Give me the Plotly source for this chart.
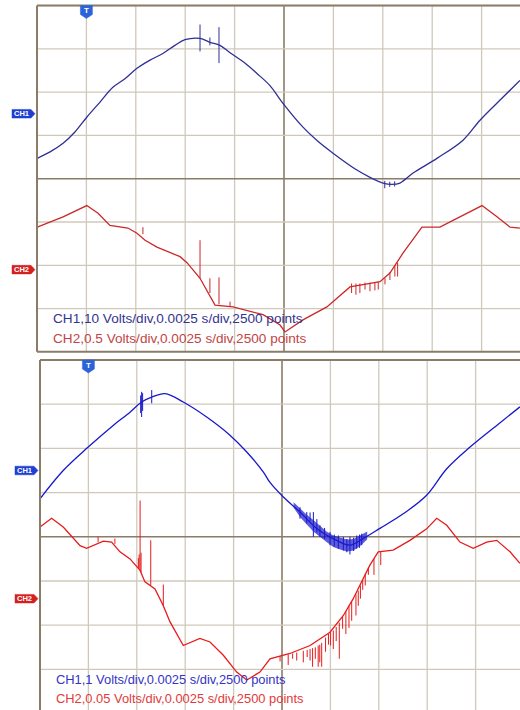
import plotly.graph_objects as go

W, H = 520, 710

# ---------------- upper capture (times in ms, values in volts) ----------------
up_ch1_t = [-2.49, -1.84, -1.18, -0.58, 0.02, 0.69, 1.34, 1.95, 2.56, 3.22, 3.87, 4.48,
            4.99, 5.75, 6.25, 6.76, 7.27, 8.02, 8.63, 9.29, 9.95, 10.96, 11.70, 12.48,
            13.69, 14.40, 15.01, 15.45, 15.87, 16.53, 17.74, 19.06, 19.92, 21.08, 21.94]
up_ch1_v = [-10.3, -8.8, -6.8, -4.2, -0.8, 2.7, 6.1, 8.1, 10.5, 12.4, 13.9, 15.8,
            17.1, 17.4, 16.5, 15.8, 14.1, 11.7, 9.3, 6.5, 2.4, -3.1, -6.3, -9.1,
            -13.0, -14.8, -16.0, -16.3, -16.0, -13.7, -10.3, -6.1, -1.5, 3.8, 7.7]
up_ch1_spk_t = [5.75, 6.25, 6.71, 15.10, 15.35, 15.60]
up_ch1_spk_lo = [14.4, 15.8, 11.7, -17.2, -16.9, -16.8]
up_ch1_spk_hi = [20.6, 17.6, 20.0, -15.5, -15.7, -15.6]

up_ch2_t = [-2.49, -1.18, 0.02, 0.59, 1.19, 2.10, 2.56, 2.97, 3.57, 4.74, 5.09, 5.75,
            6.51, 7.42, 8.94, 9.80, 10.05, 10.96, 12.17, 13.34, 14.86, 15.36, 16.02,
            16.98, 17.89, 19.06, 20.02, 20.78, 21.44, 21.94]
up_ch2_v = [0.49, 0.61, 0.74, 0.65, 0.51, 0.48, 0.42, 0.34, 0.26, 0.15, 0.08, -0.10,
            -0.41, -0.43, -0.52, -0.64, -0.72, -0.58, -0.43, -0.20, -0.14, -0.04, 0.19,
            0.49, 0.49, 0.63, 0.74, 0.61, 0.49, 0.48]
up_ch2_spk_t = [2.86, 5.75, 6.25, 6.71, 7.27, 13.42, 13.64, 13.84, 14.10, 14.35, 14.60,
                14.77, 15.11, 15.36, 15.61, 15.75]
up_ch2_spk_base = [0.41, -0.10, -0.27, -0.40, -0.43, -0.16, -0.16, -0.16, -0.15, -0.15,
                   -0.15, -0.14, -0.10, -0.03, 0.05, 0.08]
up_ch2_spk_tip = [0.49, 0.34, -0.10, -0.09, -0.37, -0.27, -0.29, -0.27, -0.23, -0.25,
                  -0.24, -0.23, -0.17, -0.12, -0.08, -0.08]

# ---------------- lower capture ----------------
lo_ch1_t = [-2.50, -1.30, -0.01, 1.28, 2.15, 2.75, 3.27, 3.96, 4.90, 6.11, 7.31, 8.18,
            9.03, 9.38, 10.07, 10.93, 11.79, 12.82, 13.51, 14.19, 15.06, 16.26, 17.47,
            18.51, 19.71, 21.09, 22.29]
lo_ch1_v = [-0.64, 0.00, 0.53, 1.02, 1.32, 1.55, 1.66, 1.74, 1.55, 1.21, 0.80, 0.42,
            -0.03, -0.27, -0.60, -0.94, -1.31, -1.58, -1.69, -1.54, -1.31, -0.98, -0.56,
            0.04, 0.53, 1.02, 1.44]
lo_ch1_spk_t = [2.70, 2.75, 2.80, 3.27, 10.93, 11.28, 11.45, 11.62, 11.80, 11.96, 12.20,
                12.48, 12.70, 12.91, 13.17, 13.35, 13.51, 13.70, 13.86, 14.00, 14.12]
lo_ch1_spk_lo = [1.30, 1.21, 1.35, 1.52, -1.09, -1.20, -1.15, -1.50, -1.40, -1.50, -1.55,
                 -1.69, -1.72, -1.77, -1.81, -1.85, -1.90, -1.82, -1.77, -1.75, -1.69]
lo_ch1_spk_hi = [1.70, 1.78, 1.75, 1.82, -0.83, -0.94, -0.95, -0.94, -1.10, -1.24, -1.30,
                 -1.39, -1.45, -1.47, -1.50, -1.55, -1.50, -1.52, -1.47, -1.45, -1.43]
# noise envelope around the CH1 minimum
lo_ch1_band_t = [10.60, 10.93, 11.28, 11.62, 11.96, 12.30, 12.65, 13.00, 13.35, 13.70,
                 14.05, 14.40]
lo_ch1_band_hi = [-0.72, -0.86, -1.00, -1.12, -1.26, -1.38, -1.47, -1.52, -1.56, -1.55,
                  -1.47, -1.38]
lo_ch1_band_lo = [-0.84, -1.05, -1.22, -1.38, -1.50, -1.62, -1.73, -1.79, -1.83, -1.81,
                  -1.70, -1.56]

lo_ch2_t = [-2.50, -1.90, -1.30, -0.43, -0.09, 0.77, 1.20, 1.63, 2.15, 2.67, 2.92, 3.44,
            3.87, 4.21, 4.90, 5.76, 6.28, 6.97, 7.66, 8.18, 8.86, 9.38, 10.41, 11.45,
            12.48, 13.17, 13.68, 14.20, 14.54, 14.97, 15.74, 16.61, 17.47, 17.99, 18.51,
            19.19, 19.88, 20.57, 21.09, 21.78, 22.29]
lo_ch2_v = [0.081, 0.091, 0.081, 0.060, 0.057, 0.065, 0.064, 0.053, 0.045, 0.032, 0.019,
            0.011, -0.008, -0.026, -0.053, -0.045, -0.049, -0.064, -0.083, -0.092, -0.083,
            -0.068, -0.062, -0.053, -0.038, -0.019, 0.000, 0.023, 0.038, 0.053, 0.055,
            0.066, 0.079, 0.091, 0.083, 0.064, 0.057, 0.064, 0.066, 0.053, 0.040]
lo_ch2_spk_t = [0.50, 1.37, 2.58, 2.62, 2.67, 2.72, 3.22, 3.87, 9.90, 10.32, 10.55, 10.76,
                11.10, 11.30, 11.45, 11.58, 11.72, 11.87, 11.95, 12.05, 12.25, 12.40,
                12.51, 12.65, 12.80, 12.96, 13.13, 13.30, 13.46, 13.60, 13.82, 13.94,
                14.05, 14.17, 14.30, 14.46, 14.75, 15.10]
lo_ch2_spk_base = [0.064, 0.062, 0.035, 0.034, 0.032, 0.030, 0.015, -0.008, -0.065,
                   -0.063, -0.062, -0.061, -0.059, -0.058, -0.057, -0.056, -0.055, -0.053,
                   -0.052, -0.050, -0.044, -0.040, -0.038, -0.036, -0.032, -0.027, -0.020,
                   -0.014, -0.008, -0.003, 0.005, 0.009, 0.015, 0.021, 0.028, 0.035, 0.045,
                   0.054]
lo_ch2_spk_tip = [0.070, 0.068, 0.046, 0.050, 0.111, 0.052, 0.066, 0.016, -0.071, -0.075,
                  -0.068, -0.070, -0.072, -0.066, -0.070, -0.077, -0.068, -0.077, -0.072,
                  -0.077, -0.060, -0.052, -0.053, -0.057, -0.048, -0.068, -0.034, -0.040,
                  -0.033, -0.025, -0.019, -0.008, 0.000, 0.010, 0.015, 0.027, 0.027, 0.038]

# channel settings: volts/div and marker position in divisions
UP_CH1_SCALE, UP_CH1_OFF = 10.0, 1.5
UP_CH2_SCALE, UP_CH2_OFF = 0.5, -2.1
LO_CH1_SCALE, LO_CH1_OFF = 1.0, 1.5
LO_CH2_SCALE, LO_CH2_OFF = 0.05, -1.4

# graticule: 10 time divisions of 2.5 ms, 8 vertical divisions
grid_t = [-2.5, 0.0, 2.5, 5.0, 7.5, 10.0, 12.5, 15.0, 17.5, 20.0, 22.5]
grid_div = [-4, -3, -2, -1, 0, 1, 2, 3, 4]

up_labels = ["CH1,10 Volts/div,0.0025 s/div,2500 points",
             "CH2,0.5 Volts/div,0.0025 s/div,2500 points"]
lo_labels = ["CH1,1 Volts/div,0.0025 s/div,2500 points",
             "CH2,0.05 Volts/div,0.0025 s/div,2500 points"]

# screen geometry (pixels)
UP = dict(left=37, top=5.5, bottom=351.7, divx=49.4, divy=43.3, font=13.6)
LO = dict(left=40, top=360, bottom=360 + 8 * 44.2, divx=48.4, divy=44.2, font=12.9)

GRID = "#d0c8bb"
AXIS = "#8b7c68"
C_UP1, C_UP2 = "#2f2f95", "#cc2828"
C_LO1, C_LO2 = "#1818cc", "#e61b1b"


def to_div(vals, scale, off):
    return [v / scale + off for v in vals]


def segs(t, a, b, scale, off):
    xs, ys = [], []
    for ti, ai, bi in zip(t, a, b):
        xs += [ti, ti, None]
        ys += [ai / scale + off, bi / scale + off, None]
    return xs, ys


def px(x):
    return x / W


def py(y):
    return 1 - y / H


fig = go.Figure()

panels = [
    ("x", "y", (up_ch1_t, up_ch1_v, UP_CH1_SCALE, UP_CH1_OFF, C_UP1,
                up_ch1_spk_t, up_ch1_spk_lo, up_ch1_spk_hi),
     (up_ch2_t, up_ch2_v, UP_CH2_SCALE, UP_CH2_OFF, C_UP2,
      up_ch2_spk_t, up_ch2_spk_base, up_ch2_spk_tip)),
    ("x2", "y2", (lo_ch1_t, lo_ch1_v, LO_CH1_SCALE, LO_CH1_OFF, C_LO1,
                  lo_ch1_spk_t, lo_ch1_spk_lo, lo_ch1_spk_hi),
     (lo_ch2_t, lo_ch2_v, LO_CH2_SCALE, LO_CH2_OFF, C_LO2,
      lo_ch2_spk_t, lo_ch2_spk_base, lo_ch2_spk_tip)),
]

for xa, ya, ch1, ch2 in panels:
    for (t, v, sc, off, col, st, sa, sb), shape in ((ch1, "spline"), (ch2, "linear")):
        line = dict(color=col, width=1.3, shape=shape)
        if shape == "spline":
            line["smoothing"] = 1.0
        fig.add_trace(go.Scatter(x=t, y=to_div(v, sc, off), mode="lines", line=line,
                                 xaxis=xa, yaxis=ya, hoverinfo="skip"))
        sx, sy = segs(st, sa, sb, sc, off)
        fig.add_trace(go.Scatter(x=sx, y=sy, mode="lines",
                                 line=dict(color=col, width=1.0),
                                 xaxis=xa, yaxis=ya, hoverinfo="skip"))

# noisy stretch of the lower CH1 trace
band_x = lo_ch1_band_t + lo_ch1_band_t[::-1]
band_y = to_div(lo_ch1_band_hi + lo_ch1_band_lo[::-1], LO_CH1_SCALE, LO_CH1_OFF)
fig.add_trace(go.Scatter(x=band_x, y=band_y, mode="lines", fill="toself",
                         fillcolor="rgba(24,24,204,0.7)", line=dict(width=0),
                         xaxis="x2", yaxis="y2", hoverinfo="skip"))


def axis_setup(geo):
    x0 = geo["left"]
    xr = [-2.5, -2.5 + (W - x0) / geo["divx"] * 2.5]
    ytop = 4.0
    ybot = 4.0 - (min(geo["bottom"], H) - geo["top"]) / geo["divy"]
    xd = [px(x0), 1.0]
    yd = [max(py(geo["bottom"]), 0.0), py(geo["top"])]
    return xr, [ybot, ytop], xd, yd


common = dict(showticklabels=False, ticks="", zeroline=False, showline=False,
              showgrid=False, fixedrange=True)

xr, yr, xd, yd = axis_setup(UP)
fig.update_layout(
    xaxis=dict(domain=xd, range=xr, anchor="y", **common),
    yaxis=dict(domain=yd, range=yr, anchor="x", **common),
)
xr2, yr2, xd2, yd2 = axis_setup(LO)
fig.update_layout(
    xaxis2=dict(domain=xd2, range=xr2, anchor="y2", **common),
    yaxis2=dict(domain=yd2, range=yr2, anchor="x2", **common),
)

shapes = []
annotations = []


def pline(x0, y0, x1, y1, width=2):
    shapes.append(dict(type="line", xref="paper", yref="paper",
                       x0=px(x0), y0=py(y0), x1=px(x1), y1=py(y1),
                       line=dict(color=AXIS, width=width)))


for xa, ya, geo, labels, cols, offs in (
        ("x", "y", UP, up_labels, ("#34348f", "#c24545"), (UP_CH1_OFF, UP_CH2_OFF)),
        ("x2", "y2", LO, lo_labels, ("#3434c4", "#e23a3a"), (LO_CH1_OFF, LO_CH2_OFF))):
    # graticule, with darker centre cross
    for g in grid_t:
        centre = g == 10.0
        shapes.append(dict(type="line", xref=xa, yref=ya + " domain", x0=g, x1=g,
                           y0=0, y1=1, layer="below",
                           line=dict(color=AXIS if centre else GRID,
                                     width=1.6 if centre else 1.3)))
    for g in grid_div:
        centre = g == 0
        shapes.append(dict(type="line", xref=xa + " domain", yref=ya, x0=0, x1=1,
                           y0=g, y1=g, layer="below",
                           line=dict(color=AXIS if centre else GRID,
                                     width=1.6 if centre else 1.3)))
    # frame: top, left and bottom edges
    pline(geo["left"], geo["top"], W, geo["top"])
    pline(geo["left"], geo["top"], geo["left"], geo["bottom"])
    pline(geo["left"], geo["bottom"], W, geo["bottom"])
    centre_y = geo["top"] + 4 * geo["divy"]
    # channel tags
    for name, off, col in (("CH1", offs[0], "#1f3fd3"), ("CH2", offs[1], "#d52020")):
        yc = centre_y - off * geo["divy"]
        x0, x1 = geo["left"] - 25, geo["left"] - 2
        h = 4.3
        path = (f"M {px(x0)},{py(yc - h)} L {px(x1 - 4)},{py(yc - h)} L {px(x1)},{py(yc)} "
                f"L {px(x1 - 4)},{py(yc + h)} L {px(x0)},{py(yc + h)} Z")
        shapes.append(dict(type="path", xref="paper", yref="paper", path=path,
                           fillcolor=col, line=dict(color=col, width=0.5)))
        annotations.append(dict(xref="paper", yref="paper", x=px((x0 + x1 - 4) / 2),
                                y=py(yc), text=name, showarrow=False,
                                font=dict(family="Arial", size=7.5, color="white",
                                          weight="bold"),
                                xanchor="center", yanchor="middle"))
    # trigger marker at t = 0
    tx = geo["left"] + geo["divx"]
    top = geo["top"]
    path = (f"M {px(tx - 6)},{py(top)} L {px(tx + 6)},{py(top)} L {px(tx + 6)},{py(top + 9)} "
            f"L {px(tx)},{py(top + 13)} L {px(tx - 6)},{py(top + 9)} Z")
    shapes.append(dict(type="path", xref="paper", yref="paper", path=path,
                       fillcolor="#2d63d8", line=dict(color="#2d63d8", width=0.5)))
    annotations.append(dict(xref="paper", yref="paper", x=px(tx), y=py(top + 5.5),
                            text="T", showarrow=False,
                            font=dict(family="Arial", size=8, color="white", weight="bold"),
                            xanchor="center", yanchor="middle"))
    # settings text
    base = geo["top"] + 7 * geo["divy"] + 10
    for i, (txt, col) in enumerate(zip(labels, cols)):
        annotations.append(dict(xref="paper", yref="paper", x=px(geo["left"] + 14),
                                y=py(base + 19.5 * i), text=txt, showarrow=False,
                                font=dict(family="Arial", size=geo["font"], color=col),
                                xanchor="left", yanchor="middle"))

fig.update_layout(
    width=W, height=H, margin=dict(l=0, r=0, t=0, b=0),
    paper_bgcolor="white", plot_bgcolor="white",
    showlegend=False, shapes=shapes, annotations=annotations,
)

fig.write_html("out.html", config={"displayModeBar": False})
